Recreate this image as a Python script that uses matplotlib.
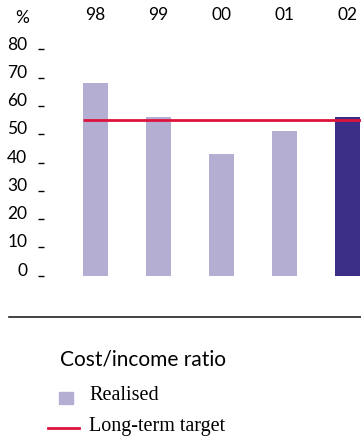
import matplotlib.pyplot as plt
from matplotlib.patches import Rectangle
from matplotlib.lines import Line2D

years = ["98", "99", "00", "01", "02"]
realised = [68, 56, 43, 51, 56]
target = 55
yticks = [0, 10, 20, 30, 40, 50, 60, 70, 80]

light = "#b5aed3"
dark = "#3a2e86"
red = "#dc143c"

W, H = 361, 441
fig = plt.figure(figsize=(W / 100, H / 100), dpi=100)

def fx(px):
    return px / W

def fy(py):
    return 1 - py / H

# axes: left edge at 44px, zero at 275.7px, 80 at 49.5px
ax = fig.add_axes([fx(44), fy(275.7), fx(361 - 44), (275.7 - 49.5) / H])
x = list(range(len(years)))
colors = [light] * (len(years) - 1) + [dark]
ax.bar(x, realised, width=0.386, color=colors, zorder=1)
ax.hlines(target, -0.2, 4.3, color=red, lw=2, zorder=2)

ax.set_xlim(-0.817, 4.214)
ax.set_ylim(0, 80)
for s in ax.spines.values():
    s.set_visible(False)

tick_font = dict(fontsize=12.5, family="Lato")
ax.set_yticks(yticks)
ax.set_yticklabels([str(v) for v in yticks], **tick_font)
ax.tick_params(axis="y", length=4, width=1, color="black", pad=8)
for lbl in ax.get_yticklabels():
    lbl.set_va("baseline")

ax.set_xticks(x)
ax.set_xticklabels(years, **tick_font)
ax.xaxis.tick_top()
ax.tick_params(axis="x", length=0, pad=19)

fig.text(fx(22), fy(18), "%", ha="center", va="center", **tick_font)

# rule under the chart
fig.add_artist(Line2D([fx(9), fx(361)], [fy(317.3), fy(317.3)], color="#222222", lw=1.2))

# legend block
fig.text(fx(60), fy(360), "Cost/income ratio", fontsize=15, family="Lato",
         ha="left", va="center")
fig.add_artist(Rectangle((fx(59), fy(404)), fx(14), 12.5 / H, color=light,
                         transform=fig.transFigure))
fig.text(fx(89), fy(396), "Realised", fontsize=14.5, family="Liberation Serif",
         ha="left", va="center")
fig.add_artist(Line2D([fx(48), fx(79)], [fy(427.7), fy(427.7)], color=red, lw=2))
fig.text(fx(89), fy(426), "Long-term target", fontsize=14.5, family="Liberation Serif",
         ha="left", va="center")

fig.savefig("out.png", dpi=100)
